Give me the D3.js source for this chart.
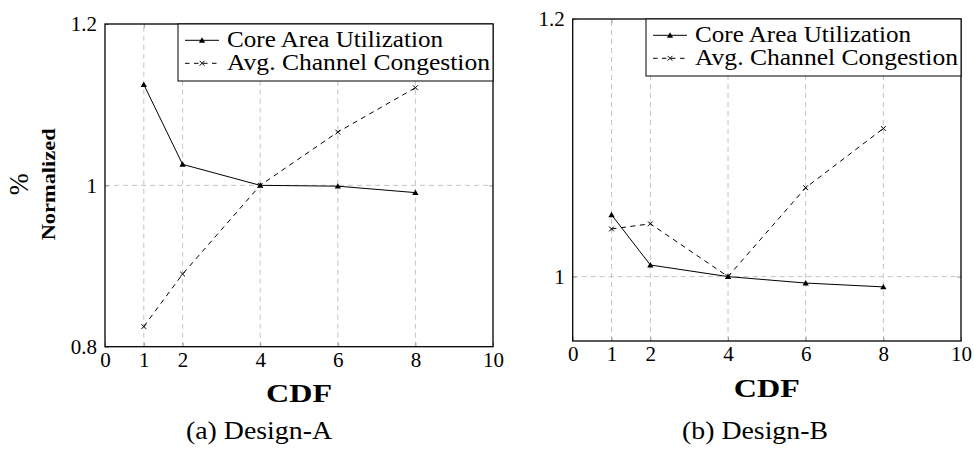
<!DOCTYPE html>
<html>
<head>
<meta charset="utf-8">
<script src="https://cdn.jsdelivr.net/npm/d3@7"></script>
<style>
  html, body { margin: 0; padding: 0; background: #fff; }
  svg text { font-family: "Liberation Serif", "Times New Roman", Times, serif !important; }
</style>
</head>
<body>
<svg id="fig" width="974" height="452"></svg>
<script>
// CDF settings on the x axis
const cdf = [1, 2, 4, 6, 8];
const xTicks = [0, 1, 2, 4, 6, 8, 10];
const yTicks = [0.8, 1, 1.2];

// Normalized results, Design-A
const coreAreaA   = [1.125, 1.026, 1.000, 0.999, 0.991];
const congestionA = [0.825, 0.890, 1.000, 1.066, 1.121];

// Normalized results, Design-B
const coreAreaB   = [1.048, 1.009, 1.000, 0.995, 0.992];
const congestionB = [1.037, 1.041, 1.000, 1.069, 1.115];

const seriesNames = ["Core Area Utilization", "Avg. Channel Congestion"];
const captions = ["(a) Design-A", "(b) Design-B"];
const xLabel = "CDF";
const yLabelMain = "%";
const yLabelSub = "Normalized";

const svg = d3.select("#fig");

// Panel layout (pixels) and per-panel data
const panels = [
  { left: 105, right: 493, top: 24, bottom: 346.7, yDomain: [0.8, 1.2],
    core: coreAreaA, cong: congestionA, caption: captions[0], captionX: 259, showYLabel: true },
  { left: 572.7, right: 961, top: 19, bottom: 341, yDomain: [0.95, 1.2],
    core: coreAreaB, cong: congestionB, caption: captions[1], captionX: 755, showYLabel: false }
];

// stretch a text element horizontally to a target width
function fit(sel, w) {
  sel.attr("textLength", w).attr("lengthAdjust", "spacingAndGlyphs");
  return sel;
}

const gridColor = "#c4c4c4";
const tickColor = "#9a9a9a";

function triangle(g, cx, cy) {
  g.append("path")
    .attr("transform", `translate(${cx},${cy + 0.6})`)
    .attr("d", d3.symbol(d3.symbolTriangle, 17)())
    .attr("fill", "#000");
}
function cross(g, cx, cy) {
  const r = 2.4;
  g.append("path")
    .attr("d", `M${cx - r},${cy - r}L${cx + r},${cy + r}M${cx - r},${cy + r}L${cx + r},${cy - r}`)
    .attr("stroke", "#000").attr("stroke-width", 1).attr("fill", "none");
}

panels.forEach(p => {
  const x = d3.scaleLinear().domain([0, 10]).range([p.left, p.right]);
  const y = d3.scaleLinear().domain(p.yDomain).range([p.bottom, p.top]);
  const g = svg.append("g");

  // grid
  const xg = xTicks.filter(t => t > 0 && t < 10);
  const yg = yTicks.filter(t => t > p.yDomain[0] && t < p.yDomain[1]);
  g.selectAll(".vg").data(xg).join("line")
    .attr("x1", d => x(d)).attr("x2", d => x(d))
    .attr("y1", p.bottom).attr("y2", p.top)
    .attr("stroke", gridColor).attr("stroke-width", 1).attr("stroke-dasharray", "5,4");
  g.selectAll(".hg").data(yg).join("line")
    .attr("x1", p.left).attr("x2", p.right)
    .attr("y1", d => y(d)).attr("y2", d => y(d))
    .attr("stroke", gridColor).attr("stroke-width", 1).attr("stroke-dasharray", "5,4");

  // axes (ticks pointing inward)
  const yv = yTicks.filter(t => t >= p.yDomain[0] && t <= p.yDomain[1]);
  const axB = g.append("g").attr("transform", `translate(0,${p.bottom})`)
    .call(d3.axisBottom(x).tickValues(xTicks).tickFormat(d => String(d)).tickSizeInner(-4).tickSizeOuter(0).tickPadding(5.5));
  const axL = g.append("g").attr("transform", `translate(${p.left},0)`)
    .call(d3.axisLeft(y).tickValues(yv).tickFormat(d => String(d)).tickSizeInner(-4).tickSizeOuter(0).tickPadding(8));
  const axT = g.append("g").attr("transform", `translate(0,${p.top})`)
    .call(d3.axisTop(x).tickValues(xg).tickFormat("").tickSizeInner(-4).tickSizeOuter(0));
  const axR = g.append("g").attr("transform", `translate(${p.right},0)`)
    .call(d3.axisRight(y).tickValues(yg).tickFormat("").tickSizeInner(-4).tickSizeOuter(0));
  [axB, axL, axT, axR].forEach(a => {
    a.select(".domain").remove();
    a.selectAll(".tick line").attr("stroke", tickColor).attr("stroke-width", 1);
    a.selectAll(".tick text").attr("font-size", 21).attr("fill", "#000");
  });

  // frame
  g.append("rect")
    .attr("x", p.left).attr("y", p.top)
    .attr("width", p.right - p.left).attr("height", p.bottom - p.top)
    .attr("fill", "none").attr("stroke", "#000").attr("stroke-width", 1.3);

  // series
  const line = d3.line().x((d, i) => x(cdf[i])).y(d => y(d));
  g.append("path").datum(p.core).attr("d", line)
    .attr("fill", "none").attr("stroke", "#000").attr("stroke-width", 1);
  g.append("path").datum(p.cong).attr("d", line)
    .attr("fill", "none").attr("stroke", "#000").attr("stroke-width", 1).attr("stroke-dasharray", "5,4.5");
  p.core.forEach((v, i) => triangle(g, x(cdf[i]), y(v)));
  p.cong.forEach((v, i) => cross(g, x(cdf[i]), y(v)));

  // legend
  const lw = 315, lh = 57;
  const lx = p.right - lw, ly = p.top;
  const lg = g.append("g");
  lg.append("rect").attr("x", lx).attr("y", ly).attr("width", lw).attr("height", lh)
    .attr("fill", "#fff").attr("stroke", "#000").attr("stroke-width", 1);
  const rows = [
    { name: seriesNames[0], dash: null, mark: triangle, ly: 16.3, ty: 22.7, tw: 216 },
    { name: seriesNames[1], dash: "4.5,4.5", mark: cross, ly: 39.3, ty: 45.5, tw: 263 }
  ];
  rows.forEach(r => {
    const yy = ly + r.ly;
    lg.append("line").attr("x1", lx + 7).attr("x2", lx + 41).attr("y1", yy).attr("y2", yy)
      .attr("stroke", "#000").attr("stroke-width", 1).attr("stroke-dasharray", r.dash);
    r.mark(lg, lx + 24, yy);
    fit(lg.append("text").attr("x", lx + 49).attr("y", ly + r.ty)
      .attr("font-size", 23).text(r.name), r.tw);
  });

  // x label
  fit(g.append("text").attr("x", (p.left + p.right) / 2).attr("y", p.bottom + 55.5)
    .attr("text-anchor", "middle").attr("font-size", 26).attr("font-weight", "bold").text(xLabel), 66);

  // caption
  fit(g.append("text").attr("x", p.captionX).attr("y", 439)
    .attr("text-anchor", "middle").attr("font-size", 25).text(p.caption), 146);

  // y label
  if (p.showYLabel) {
    const cy = (p.top + p.bottom) / 2;
    fit(g.append("text").attr("transform", `translate(28,${cy - 1}) rotate(-90)`)
      .attr("text-anchor", "middle").attr("font-size", 28).text(yLabelMain), 22);
    fit(g.append("text").attr("transform", `translate(55,${cy - 1}) rotate(-90)`)
      .attr("text-anchor", "middle").attr("font-size", 19).attr("font-weight", "bold").text(yLabelSub), 112);
  }
});
</script>
</body>
</html>
